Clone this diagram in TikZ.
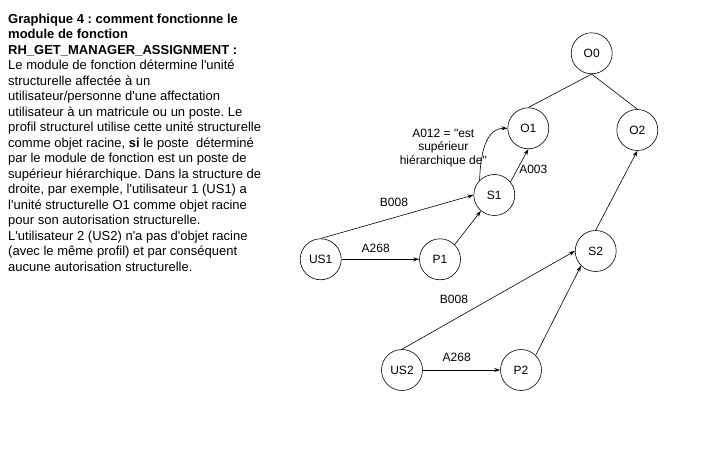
\documentclass[tikz,border=0pt]{standalone}
\usepackage{fontspec}
\setmainfont{Liberation Sans}[Ligatures=TeXOff]
\usetikzlibrary{arrows.meta}
\frenchspacing
\begin{document}
\begin{tikzpicture}[x=1pt,y=-1pt,
  state/.style={circle,draw,line width=0.6pt,minimum size=41pt,inner sep=0pt,font=\fontsize{12}{14}\selectfont},
  lbl/.style={font=\fontsize{12}{13.7}\selectfont,inner sep=0pt,align=center},
  arr/.style={line width=0.6pt,-{Stealth[length=6pt,width=4pt]}},
  ln/.style={line width=0.6pt}]
\useasboundingbox (0,0) rectangle (711,454);
\node[anchor=north west,inner sep=0pt,align=left,font=\fontsize{13}{15.5}\selectfont\frenchspacing] (txt) at (8,13.5) {%
\textbf{Graphique 4 : comment fonctionne le}\\
\textbf{module de fonction}\\
\textbf{RH\_GET\_MANAGER\_ASSIGNMENT :}\\
Le module de fonction détermine l'unité\\
structurelle affectée à un\\
utilisateur/personne d'une affectation\\
utilisateur à un matricule ou un poste. Le\\
profil structurel utilise cette unité structurelle\\
comme objet racine, \textbf{si} le poste\ \ déterminé\\
par le module de fonction est un poste de\\
supérieur hiérarchique. Dans la structure de\\
droite, par exemple, l'utilisateur 1 (US1) a\\
l'unité structurelle O1 comme objet racine\\
pour son autorisation structurelle.\\
L'utilisateur 2 (US2) n'a pas d'objet racine\\
(avec le même profil) et par conséquent\\
aucune autorisation structurelle.};

\node[state] (O0) at (591.7,53.3) {O0};
\node[state] (O1) at (528.3,128.3) {O1};
\node[state] (O2) at (637.3,130) {O2};
\node[state] (S1) at (494.3,195) {S1};
\node[state] (US1) at (320.7,259.3) {US1};
\node[state] (P1) at (440,259.3) {P1};
\node[state] (S2) at (595.7,251) {S2};
\node[state] (US2) at (402,370) {US2};
\node[state] (P2) at (521,370) {P2};

\draw[ln] (O0.south) -- (O1.north);
\draw[ln] (O0.south) -- (O2.north);
\draw[arr] (S1.39) -- (O1.south);
\draw[arr] (S1.135) to[out=88,in=180] (O1.west);
\draw[arr] (US1.north) -- (S1.west);
\draw[arr] (US1.east) -- (P1.west);
\draw[arr] (P1.45) -- (S1.230);
\draw[arr] (S2.north) -- (O2.south);
\draw[arr] (US2.north) -- (S2.west);
\draw[arr] (US2.east) -- (P2.west);
\draw[arr] (P2.45) -- (S2.225);

\node[lbl] (lA012) at (443.3,148) {A012 = "est\\supérieur\\hiérarchique de"};
\node[lbl] (lA003) at (533.3,169.3) {A003};
\node[lbl] (lB008a) at (394,202.7) {B008};
\node[lbl] (lA268a) at (375.7,248.3) {A268};
\node[lbl] (lB008b) at (454,299.3) {B008};
\node[lbl] (lA268b) at (456.7,357.3) {A268};
\end{tikzpicture}
\end{document}
